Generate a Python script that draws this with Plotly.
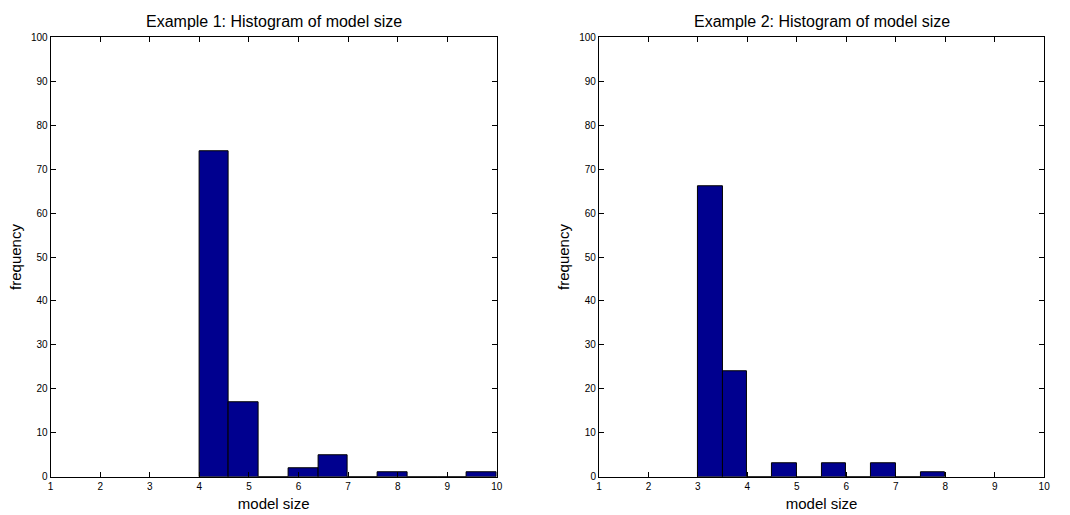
import plotly.graph_objects as go

# Example 1: histogram bins (centers, width) and counts
ex1_centers = [4.3, 4.9, 5.5, 6.1, 6.7, 7.3, 7.9, 8.5, 9.1, 9.7]
ex1_counts = [74, 17, 0, 2, 5, 0, 1, 0, 0, 1]
ex1_width = 0.6

# Example 2
ex2_centers = [3.25, 3.75, 4.25, 4.75, 5.25, 5.75, 6.25, 6.75, 7.25, 7.75]
ex2_counts = [66, 24, 0, 3, 0, 3, 0, 3, 0, 1]
ex2_width = 0.5

titles = ["Example 1: Histogram of model size", "Example 2: Histogram of model size"]
x_ticks = [1, 2, 3, 4, 5, 6, 7, 8, 9, 10]
y_ticks = [0, 10, 20, 30, 40, 50, 60, 70, 80, 90, 100]

W, H = 1070, 515
FONT = "Liberation Sans, Arial, Helvetica, sans-serif"
BAR = "#00008F"

fig = go.Figure()
fig.add_trace(go.Bar(x=ex1_centers, y=ex1_counts, width=ex1_width,
                     marker=dict(color=BAR, line=dict(color="black", width=1)),
                     xaxis="x", yaxis="y", showlegend=False))
fig.add_trace(go.Bar(x=ex2_centers, y=ex2_counts, width=ex2_width,
                     marker=dict(color=BAR, line=dict(color="black", width=1)),
                     xaxis="x2", yaxis="y2", showlegend=False))

left = (48, 498)
right = (601, 1050)
top, bottom = 32, 482

ax_common = dict(showline=True, linecolor="black", linewidth=1, mirror="ticks",
                 ticks="inside", ticklen=5, tickcolor="black", tickwidth=1,
                 showgrid=False, zeroline=False,
                 tickfont=dict(family=FONT, size=10, color="black"))

xcommon = dict(ax_common, range=[1, 10], tickvals=x_ticks, fixedrange=True,
               title=dict(text="model size", font=dict(family=FONT, size=15, color="black"), standoff=7))
ycommon = dict(ax_common, range=[0, 100], tickvals=y_ticks, fixedrange=True,
               title=dict(text="frequency", font=dict(family=FONT, size=15, color="black"), standoff=5))

ydom = [(H - bottom) / H, (H - top) / H]
title_y = 15.5
fig.update_layout(
    width=W, height=H,
    margin=dict(l=0, r=0, t=0, b=0),
    paper_bgcolor="white", plot_bgcolor="white",
    bargap=0,
    xaxis=dict(xcommon, domain=[left[0] / W, left[1] / W], anchor="y"),
    yaxis=dict(ycommon, domain=ydom, anchor="x"),
    xaxis2=dict(xcommon, domain=[right[0] / W, right[1] / W], anchor="y2"),
    yaxis2=dict(ycommon, domain=ydom, anchor="x2"),
    annotations=[
        dict(text=titles[0], x=(left[0] + left[1]) / 2 / W, y=(H - title_y) / H, xref="paper", yref="paper",
             showarrow=False, xanchor="center", yanchor="middle",
             font=dict(family=FONT, size=16, color="black")),
        dict(text=titles[1], x=(right[0] + right[1]) / 2 / W, y=(H - title_y) / H, xref="paper", yref="paper",
             showarrow=False, xanchor="center", yanchor="middle",
             font=dict(family=FONT, size=16, color="black")),
    ],
)

fig.write_html("out.html", config={"displayModeBar": False},
               post_script="document.body.style.margin='0';document.body.style.overflow='hidden';")
